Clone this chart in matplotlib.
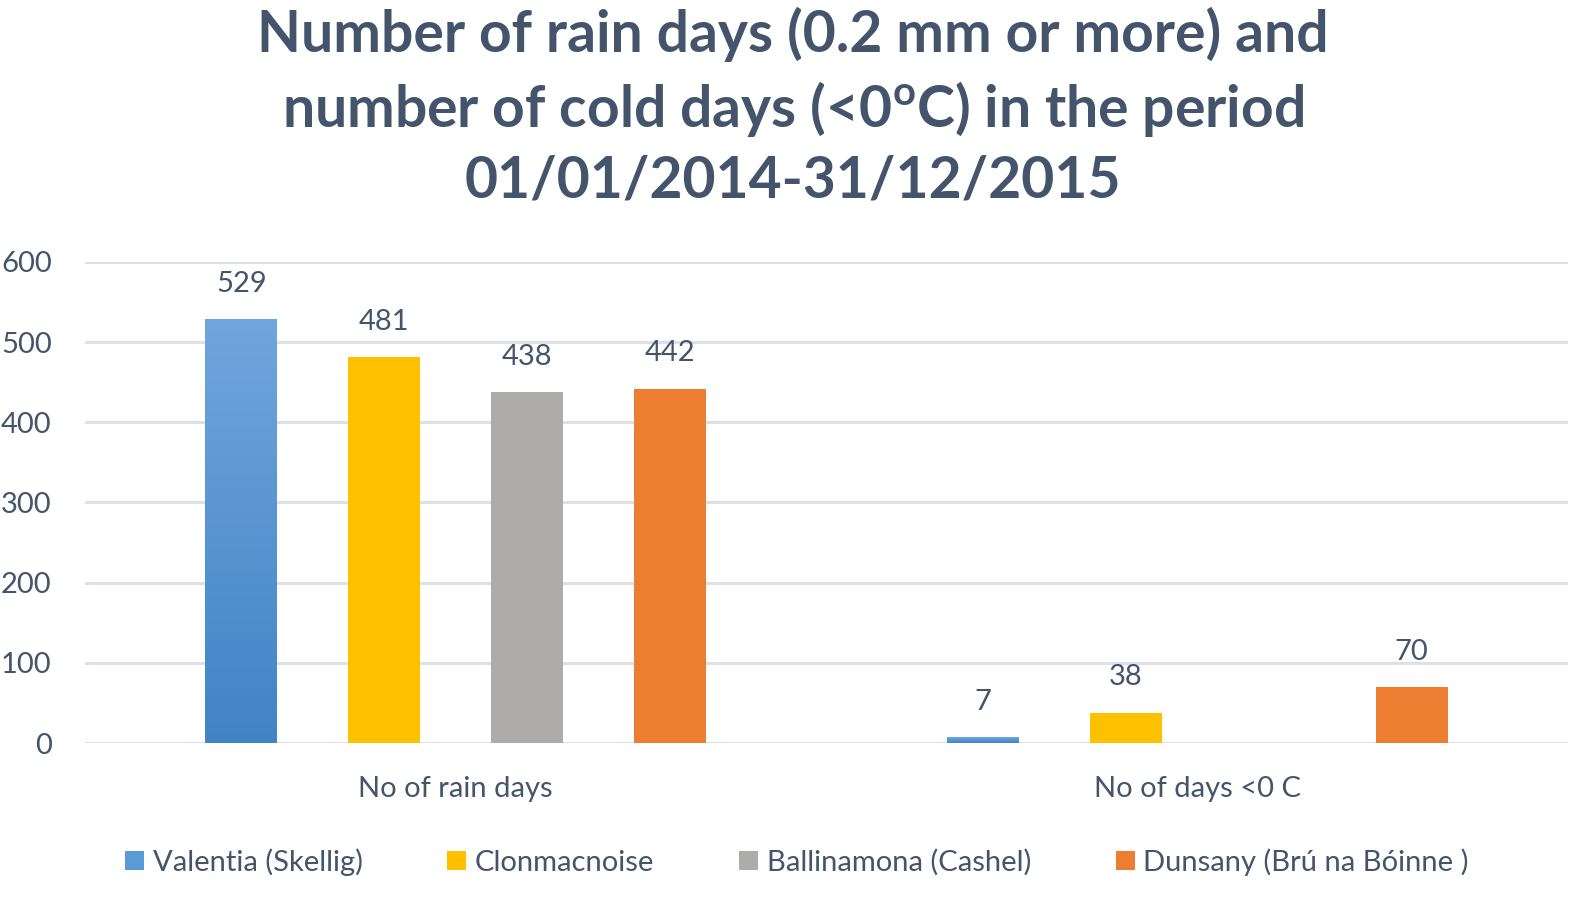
import numpy as np
import matplotlib
matplotlib.use("Agg")
import matplotlib.pyplot as plt
from matplotlib.patches import Patch
from matplotlib.colors import LinearSegmentedColormap

plt.rcParams['font.family'] = ['Lato', 'DejaVu Sans']
plt.rcParams['mathtext.fontset'] = 'custom'
plt.rcParams['mathtext.rm'] = 'Lato'
plt.rcParams['mathtext.bf'] = 'Lato:bold'

categories = ["No of rain days", "No of days <0 C"]
stations = ["Valentia (Skellig)", "Clonmacnoise", "Ballinamona (Cashel)", "Dunsany (Brú na Bóinne )"]
values = {
    "Valentia (Skellig)": [529, 7],
    "Clonmacnoise": [481, 38],
    "Ballinamona (Cashel)": [438, np.nan],
    "Dunsany (Brú na Bóinne )": [442, 70],
}
colors = ["#5B9BD5", "#FFC000", "#AEABAB", "#ED7D31"]
yticks = [0, 100, 200, 300, 400, 500, 600]

TXT = "#44546A"
GRID = "#DDE1E7"

fig = plt.figure(figsize=(15.94, 8.99), dpi=100)
ax = fig.add_axes([85/1594, 1-743/899, (1568-85)/1594, (743-262)/899])

x = np.arange(len(categories))
step = 143/741.5
width = 72/741.5
grad = LinearSegmentedColormap.from_list("g", ["#4283C6", "#70A6DD"])

for i, (st, col) in enumerate(zip(stations, colors)):
    vals = np.array(values[st], dtype=float)
    pos = x + (i - 1.5) * step
    for p, v in zip(pos, vals):
        if np.isnan(v):
            continue
        if i == 0:
            b = ax.bar(p, v, width, color="none", edgecolor="none", zorder=3)[0]
            img = ax.imshow(np.linspace(0, 1, 256).reshape(-1, 1), cmap=grad, origin="lower",
                            extent=(p - width/2, p + width/2, 0, v), aspect="auto", zorder=3)
            img.set_clip_path(b)
        else:
            ax.bar(p, v, width, color=col, edgecolor="none", zorder=3)
        ax.annotate(f"{int(v)}", (p, v), xytext=(0, 16), textcoords="offset points",
                    ha="center", va="bottom", fontsize=21, color=TXT)

ax.set_xlim(-0.5, 1.5)
ax.set_ylim(0, 600)
ax.set_yticks(yticks)
ax.set_yticklabels([str(t) for t in yticks])
ax.set_xticks(x)
ax.set_xticklabels(categories)
ax.tick_params(axis="y", length=0, pad=24, labelsize=21, labelcolor=TXT)
ax.tick_params(axis="x", length=0, pad=24, labelsize=21, labelcolor=TXT)
for s in ax.spines.values():
    s.set_visible(False)
ax.yaxis.grid(True, color=GRID, linewidth=2.2, zorder=0)
ax.set_axisbelow(True)

fig.text(0.4975, 1-107/899,
         "Number of rain days (0.2 mm or more) and\nnumber of cold days (<0$^{\\bf o}$C) in the period\n01/01/2014-31/12/2015",
         ha="center", va="center", fontsize=41, fontweight="bold", color=TXT, linespacing=1.36)

handles = [Patch(facecolor=c, edgecolor="none") for c in colors]
leg = fig.legend(handles, stations, loc="center", bbox_to_anchor=(0.5, 1-862/899), ncol=4,
                 frameon=False, fontsize=21, handlelength=0.65, handleheight=0.65,
                 handletextpad=0.3, columnspacing=2.9)
for t in leg.get_texts():
    t.set_color(TXT)

fig.savefig("out.png", dpi=100)
